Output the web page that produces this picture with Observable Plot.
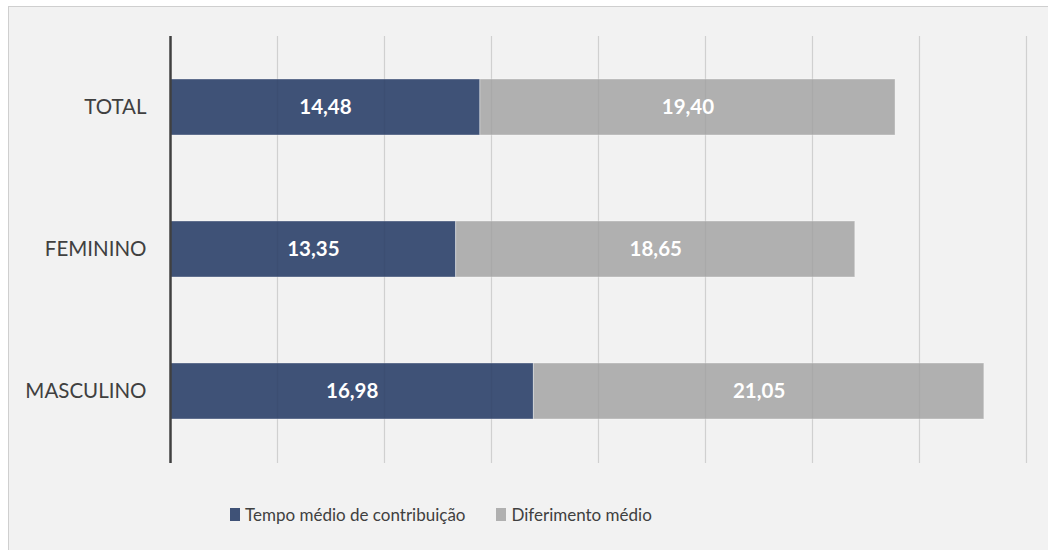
<!DOCTYPE html>
<html>
<head>
<meta charset="utf-8">
<script src="https://cdn.jsdelivr.net/npm/d3@7"></script>
<script src="https://cdn.jsdelivr.net/npm/@observablehq/plot@0.6"></script>
<style>
  body { margin: 0; background: #ffffff; font-family: Lato, "Open Sans", sans-serif; }
  #frame { position: absolute; left: 8px; top: 6px; width: 1100px; height: 600px; background: #f2f2f2; border: 1px solid #cfcfcf; }
  #chart { position: absolute; left: 0; top: 0; width: 1048px; }
  #legend { display: flex; gap: 0; align-items: center; padding-left: 230px; margin-top: 34px; font-size: 17px; color: #404040; }
  .sw { display: inline-block; width: 10px; height: 13px; margin-right: 5px; }
  .item { display: flex; align-items: center; margin-right: 31px; }
</style>
</head>
<body>
<div id="frame"></div>
<div id="chart"></div>
<script>
const categories = ["TOTAL", "FEMININO", "MASCULINO"];
const tempo = [14.48, 13.35, 16.98];
const diferimento = [19.40, 18.65, 21.05];
const series = ["Tempo médio de contribuição", "Diferimento médio"];
const colors = ["#3f5277", "#b0b0b0"];
const gridTicks = [5, 10, 15, 20, 25, 30, 35, 40];

const data = [];
categories.forEach((c, i) => {
  data.push({cat: c, series: series[0], value: tempo[i]});
  data.push({cat: c, series: series[1], value: diferimento[i]});
});

const fmt = v => v.toFixed(2).replace(".", ",");

const plot = Plot.plot({
  width: 1048,
  height: 470,
  marginLeft: 170,
  marginRight: 22,
  marginTop: 36,
  marginBottom: 7,
  style: { background: "transparent", fontFamily: 'Lato, "Open Sans", sans-serif' },
  x: { domain: [0, 40], axis: null },
  y: { domain: categories, paddingInner: 0.605, paddingOuter: 0.3025, label: null },
  color: { domain: series, range: colors },
  marks: [
    Plot.ruleX(gridTicks, { stroke: "#d9d9d9", strokeWidth: 1.2 }),
    Plot.barX(data, Plot.stackX({ y: "cat", x: "value", fill: "series", z: "series", order: series, stroke: "#ffffff", strokeOpacity: 0.35, strokeWidth: 1 })),
    Plot.ruleX(gridTicks, { stroke: "#000000", strokeOpacity: 0.04, strokeWidth: 1.2 }),
    Plot.text(data, Plot.stackX({ y: "cat", x: "value", z: "series", order: series, text: d => fmt(d.value), fill: "#ffffff", fontWeight: "bold", fontSize: 20.5 })),
    Plot.ruleX([0], { stroke: "#404040", strokeWidth: 2.5 }),
    Plot.axisY({ tickSize: 0, tickPadding: 24, fontSize: 20.5, fill: "#404040", label: null })
  ]
});

const chart = document.getElementById("chart");
chart.appendChild(plot);

const legend = document.createElement("div");
legend.id = "legend";
series.forEach((s, i) => {
  const item = document.createElement("div");
  item.className = "item";
  const sw = document.createElement("span");
  sw.className = "sw";
  sw.style.background = colors[i];
  item.appendChild(sw);
  const t = document.createElement("span");
  t.textContent = s;
  item.appendChild(t);
  legend.appendChild(item);
});
chart.appendChild(legend);
</script>
</body>
</html>
